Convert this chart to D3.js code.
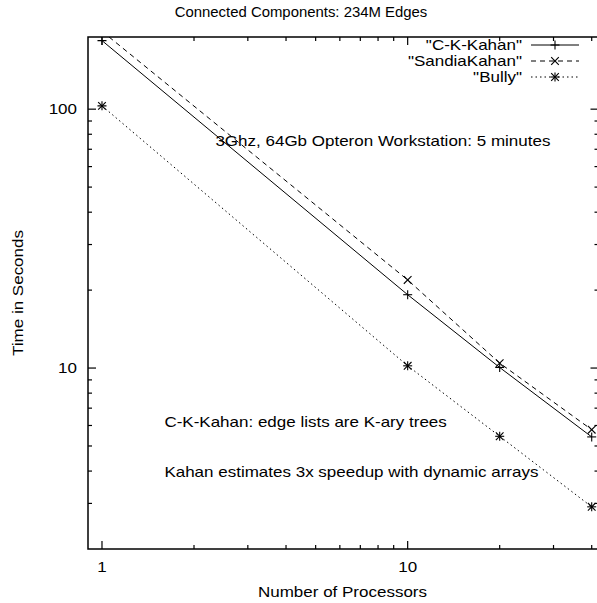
<!DOCTYPE html>
<html><head><meta charset="utf-8">
<script src="https://cdn.jsdelivr.net/npm/d3@7"></script>
<style>body{margin:0;background:#fff}svg{display:block;font-family:"Liberation Sans",Arial,Helvetica,sans-serif}</style>
</head><body><svg id="c" width="597" height="603"></svg>
<script>
const title = "Connected Components: 234M Edges";
const xLabel = "Number of Processors";
const yLabel = "Time in Seconds";
const processors = [1, 10, 20, 40];
const ckKahan = [184, 19.2, 10.05, 5.42];
const sandiaKahan = [200, 21.9, 10.45, 5.78];
const bully = [103, 10.2, 5.45, 2.91];
const seriesNames = ['"C-K-Kahan"', '"SandiaKahan"', '"Bully"'];
const xTickLabels = [1, 10];
const yTickLabels = [10, 100];
const notes = [
  {text: "3Ghz, 64Gb Opteron Workstation: 5 minutes", x: 2.35, y: 72},
  {text: "C-K-Kahan: edge lists are K-ary trees", x: 1.6, y: 5.92},
  {text: "Kahan estimates 3x speedup with dynamic arrays", x: 1.6, y: 3.79}
];

const svg = d3.select("#c");
const L = 88, R = 598.5, T = 37, B = 549;
const x = d3.scaleLog().domain([0.9, 42.1]).range([L, R]);
const y = d3.scaleLog().domain([2, 190]).range([B, T]);
const FS = 14, SX = 1.215;

function txt(px, py, anchor, str, sx, fs, rot) {
  return svg.append("text")
    .attr("transform", `translate(${px},${py})` + (rot ? ` rotate(${rot})` : "") + ` scale(${sx},1)`)
    .attr("text-anchor", anchor).attr("font-size", fs || FS).text(str);
}

const series = [
  {name: seriesNames[0], vals: ckKahan, dash: null, marker: "plus"},
  {name: seriesNames[1], vals: sandiaKahan, dash: "5,4", marker: "cross"},
  {name: seriesNames[2], vals: bully, dash: "1.5,3", marker: "star"}
];

svg.append("defs").append("clipPath").attr("id","clip")
  .append("rect").attr("x",L).attr("y",T).attr("width",R-L).attr("height",B-T);

// title
txt(301, 17, "middle", title, 1.065, 14);

// ticks
const xMajor = [1, 10];
const xMinor = [2,3,4,5,6,7,8,9,20,30,40];
const yMajor = [10, 100];
const yMinor = [3,4,5,6,7,8,9,20,30,40,50,60,70,80,90];
const g = svg.append("g").attr("stroke","#000").attr("stroke-width",1.2);
xMajor.forEach(v => { g.append("line").attr("x1",x(v)).attr("x2",x(v)).attr("y1",B).attr("y2",B-8);
  g.append("line").attr("x1",x(v)).attr("x2",x(v)).attr("y1",T).attr("y2",T+8); });
xMinor.forEach(v => { g.append("line").attr("x1",x(v)).attr("x2",x(v)).attr("y1",B).attr("y2",B-4);
  g.append("line").attr("x1",x(v)).attr("x2",x(v)).attr("y1",T).attr("y2",T+4); });
yMajor.forEach(v => { g.append("line").attr("y1",y(v)).attr("y2",y(v)).attr("x1",L).attr("x2",L+8);
  g.append("line").attr("y1",y(v)).attr("y2",y(v)).attr("x1",R).attr("x2",R-8); });
yMinor.forEach(v => { g.append("line").attr("y1",y(v)).attr("y2",y(v)).attr("x1",L).attr("x2",L+4);
  g.append("line").attr("y1",y(v)).attr("y2",y(v)).attr("x1",R).attr("x2",R-4); });

// frame
svg.append("rect").attr("x",L).attr("y",T).attr("width",R-L).attr("height",B-T)
  .attr("fill","none").attr("stroke","#000").attr("stroke-width",1.5);

// tick labels
xTickLabels.forEach(v => txt(x(v), B+23, "middle", v, SX));
yTickLabels.forEach(v => txt(L-11, y(v)+5, "end", v, SX));

// axis labels
txt((L+597)/2, 597, "middle", xLabel, SX);
txt(23, (T+B)/2, "middle", yLabel, SX, FS, -90);

// notes
notes.forEach(n => txt(x(n.x), y(n.y), "start", n.text, SX));

function marker(sel, type, cx, cy) {
  const s = 4.5;
  const m = sel.append("g").attr("stroke","#000").attr("stroke-width",1.1);
  if (type === "plus" || type === "star") {
    m.append("line").attr("x1",cx-s).attr("x2",cx+s).attr("y1",cy).attr("y2",cy);
    m.append("line").attr("x1",cx).attr("x2",cx).attr("y1",cy-s).attr("y2",cy+s);
  }
  if (type === "cross" || type === "star") {
    const d = s*0.85;
    m.append("line").attr("x1",cx-d).attr("x2",cx+d).attr("y1",cy-d).attr("y2",cy+d);
    m.append("line").attr("x1",cx-d).attr("x2",cx+d).attr("y1",cy+d).attr("y2",cy-d);
  }
}

const plot = svg.append("g").attr("clip-path","url(#clip)");
const line = d3.line().x(d => x(d[0])).y(d => y(d[1]));
series.forEach(s => {
  const pts = processors.map((p,i) => [p, s.vals[i]]);
  plot.append("path").datum(pts).attr("d", line).attr("fill","none")
    .attr("stroke","#000").attr("stroke-width",1).attr("stroke-dasharray", s.dash);
  pts.forEach(p => marker(plot, s.marker, x(p[0]), y(p[1])));
});

// legend
series.forEach((s,i) => {
  const ly = 45 + i*16;
  txt(522, ly+5, "end", s.name, SX);
  svg.append("line").attr("x1",531).attr("x2",579).attr("y1",ly).attr("y2",ly)
    .attr("stroke","#000").attr("stroke-width",1).attr("stroke-dasharray", s.dash);
  marker(svg, s.marker, 555, ly);
});
</script></body></html>
